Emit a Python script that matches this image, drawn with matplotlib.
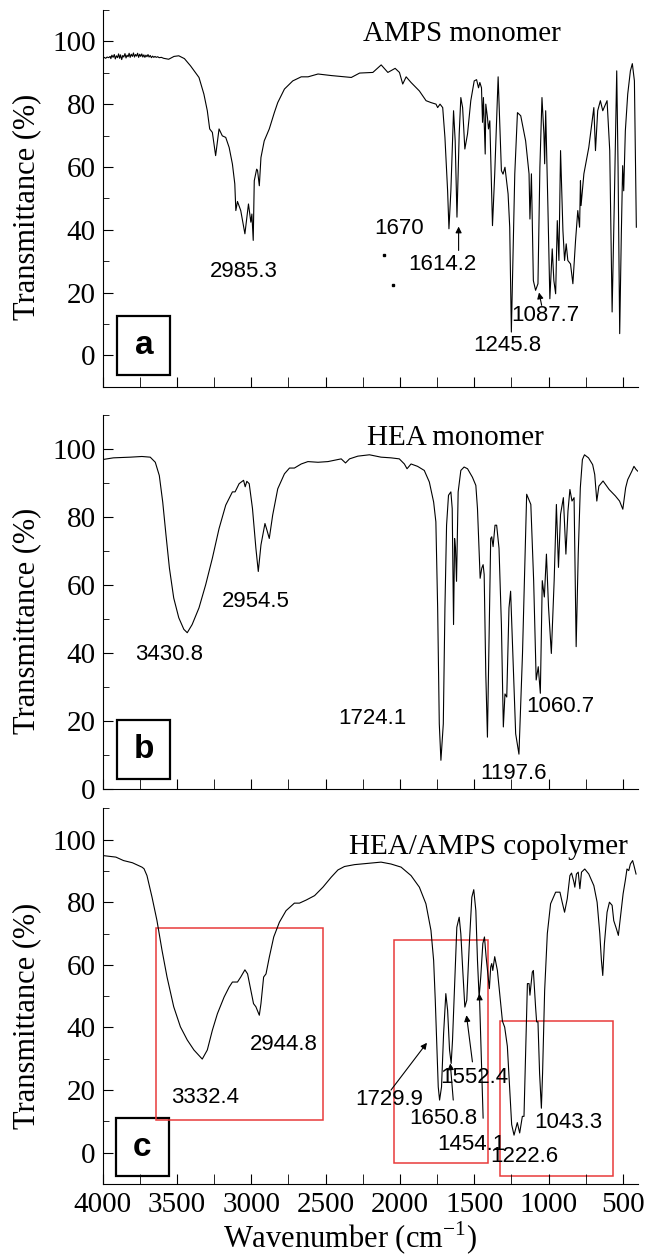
import matplotlib
matplotlib.use('Agg')
import matplotlib.pyplot as plt
from matplotlib.patches import Rectangle
from matplotlib.ticker import MultipleLocator

# FTIR spectra: (wavenumber cm-1, transmittance %)
spec_a = [(4000, 94.7), (3990, 94.9), (3980, 94.6), (3970, 95.0), (3960, 94.8), (3950, 95.2), (3945, 94.5),
          (3938, 95.6), (3930, 94.9), (3922, 95.8), (3915, 94.4), (3908, 95.4), (3900, 94.8), (3893, 96.0),
          (3886, 94.6), (3880, 95.7), (3872, 94.2), (3865, 95.5), (3858, 95.0), (3850, 96.1), (3843, 94.7),
          (3836, 95.6), (3829, 95.1), (3822, 96.2), (3815, 94.9), (3808, 95.9), (3800, 95.2), (3793, 96.3),
          (3786, 95.0), (3779, 95.8), (3772, 95.3), (3765, 96.2), (3758, 94.9), (3751, 95.9), (3744, 95.2),
          (3737, 96.0), (3730, 95.0), (3723, 95.7), (3716, 94.9), (3709, 95.6), (3702, 95.1), (3695, 95.8),
          (3688, 95.0), (3680, 95.5), (3672, 94.8), (3664, 95.3), (3656, 94.9), (3648, 95.2), (3640, 94.9),
          (3630, 95.1), (3620, 94.8), (3605, 94.9), (3590, 94.6), (3578, 94.5), (3556, 94.3), (3520, 95.2),
          (3488, 95.4), (3450, 94.5), (3409, 92.2), (3352, 88.5), (3319, 83.2), (3296, 77.9), (3280, 72.1),
          (3262, 71.0), (3240, 63.6), (3217, 72.1), (3195, 69.9), (3172, 69.4), (3149, 66.2), (3127, 60.9),
          (3111, 54.6), (3104, 46.1), (3093, 49.0), (3071, 46.1), (3043, 38.7), (3019, 48.2), (3003, 42.4),
          (2996, 45.0), (2987, 36.6), (2980, 55.6), (2964, 59.3), (2958, 58.9), (2946, 54.0), (2935, 63.0),
          (2913, 68.3), (2879, 72.1), (2845, 77.3), (2822, 80.5), (2777, 84.8), (2721, 87.4), (2664, 88.7),
          (2618, 88.7), (2551, 89.6), (2461, 89.1), (2372, 88.7), (2327, 88.5), (2271, 89.9), (2182, 90.1),
          (2126, 92.5), (2081, 90.1), (2032, 91.4), (2003, 90.1), (1981, 86.4), (1958, 88.7), (1925, 86.9),
          (1869, 84.2), (1824, 81.1), (1791, 80.5), (1757, 80.0), (1746, 78.9), (1730, 80.0), (1712, 78.9),
          (1697, 69.4), (1679, 52.4), (1670, 40.3), (1657, 52.4), (1639, 77.9), (1628, 68.3), (1616, 44.0),
          (1601, 70.5), (1590, 82.1), (1578, 78.9), (1563, 65.7), (1545, 70.5), (1523, 81.1), (1500, 87.4),
          (1484, 87.8), (1471, 85.2), (1462, 86.9), (1451, 85.2), (1444, 74.2), (1438, 82.1), (1426, 64.1),
          (1422, 80.0), (1411, 75.8), (1404, 72.1), (1395, 74.7), (1377, 41.3), (1362, 57.7), (1339, 88.7),
          (1317, 58.8), (1306, 57.7), (1293, 59.9), (1272, 51.4), (1261, 40.8), (1250, 7.4), (1227, 57.8),
          (1209, 77.3), (1187, 76.3), (1154, 68.3), (1131, 57.8), (1125, 43.4), (1115, 57.8), (1102, 23.8),
          (1087, 20.7), (1071, 22.8), (1058, 59.9), (1044, 82.1), (1031, 70.5), (1026, 61.0), (1019, 77.9),
          (1004, 47.1), (991, 18.0), (975, 33.9), (964, 23.8), (952, 19.6), (941, 42.9), (930, 30.2),
          (919, 65.2), (903, 39.7), (892, 30.2), (881, 35.5), (870, 30.2), (852, 29.1), (836, 22.8),
          (818, 36.6), (803, 46.1), (791, 40.8), (785, 55.6), (781, 47.7), (762, 57.8), (729, 66.2),
          (695, 78.9), (684, 65.2), (669, 77.9), (651, 81.1), (635, 77.9), (606, 81.1), (588, 65.2),
          (572, 13.8), (557, 49.3), (541, 90.6), (532, 59.9), (521, 6.9), (510, 38.7), (501, 60.4),
          (494, 52.4), (483, 71.5), (467, 83.2), (449, 90.6), (436, 92.9), (422, 87.4), (409, 40.8)]

spec_b = [(4000, 96.9), (3928, 97.4), (3870, 97.5), (3815, 97.6), (3736, 97.8), (3680, 97.6), (3646, 96.1),
          (3619, 92.2), (3596, 84.4), (3574, 74.7), (3551, 65.0), (3522, 56.2), (3488, 50.4), (3454, 47.0),
          (3431, 46.0), (3398, 48.4), (3352, 53.3), (3307, 60.1), (3262, 67.9), (3217, 76.6), (3172, 83.5),
          (3127, 87.4), (3109, 87.4), (3082, 89.8), (3052, 90.8), (3041, 88.9), (3030, 90.5), (3014, 89.8),
          (2992, 82.5), (2969, 70.8), (2953, 64.0), (2935, 71.8), (2908, 78.1), (2895, 76.2), (2879, 73.7),
          (2856, 80.6), (2822, 88.3), (2777, 92.7), (2743, 94.4), (2710, 94.4), (2664, 95.6), (2619, 96.3),
          (2551, 96.1), (2484, 96.3), (2395, 97.1), (2366, 95.9), (2339, 97.1), (2283, 97.9), (2205, 98.3),
          (2127, 97.6), (2060, 97.4), (2004, 97.1), (1970, 95.6), (1952, 94.2), (1925, 95.6), (1881, 94.9),
          (1836, 93.7), (1802, 90.3), (1773, 84.4), (1758, 78.6), (1746, 53.3), (1735, 19.2), (1724, 8.5),
          (1708, 19.2), (1697, 53.3), (1686, 77.6), (1673, 86.4), (1657, 87.4), (1648, 82.5), (1639, 48.4),
          (1632, 73.7), (1626, 70.8), (1619, 61.1), (1608, 87.4), (1590, 93.7), (1568, 94.7), (1545, 94.2),
          (1512, 91.7), (1489, 89.3), (1478, 82.5), (1467, 69.8), (1460, 62.0), (1449, 65.0), (1440, 66.0),
          (1433, 63.1), (1422, 33.8), (1411, 15.3), (1400, 43.6), (1389, 73.7), (1382, 74.2), (1373, 71.3),
          (1360, 77.6), (1349, 77.6), (1333, 70.8), (1317, 48.4), (1304, 18.3), (1293, 28.0), (1281, 27.1),
          (1266, 53.3), (1255, 58.2), (1239, 38.7), (1221, 16.3), (1199, 10.3), (1175, 39.9), (1147, 86.7),
          (1119, 83.7), (1100, 61.3), (1083, 32.1), (1069, 36.0), (1055, 28.2), (1042, 61.3), (1028, 56.5),
          (1014, 69.1), (1000, 53.6), (981, 39.9), (962, 61.3), (947, 83.7), (933, 65.2), (919, 80.8),
          (900, 85.7), (883, 69.1), (869, 81.8), (856, 88.1), (842, 84.7), (828, 85.7), (814, 41.9),
          (800, 69.1), (786, 88.6), (772, 96.9), (758, 98.3), (731, 97.4), (703, 95.4), (689, 92.5),
          (675, 84.7), (661, 89.1), (633, 90.6), (592, 88.1), (550, 86.2), (522, 84.7), (500, 82.3),
          (481, 88.6), (467, 91.0), (439, 93.5), (425, 94.9), (411, 94.0), (400, 93.5)]

spec_c = [(4000, 94.9), (3911, 94.4), (3860, 93.3), (3800, 92.6), (3736, 91.2), (3722, 90.7), (3702, 88.5),
          (3668, 81.6), (3635, 74.2), (3601, 64.7), (3567, 56.1), (3522, 46.6), (3477, 40.2), (3431, 36.0),
          (3386, 32.8), (3330, 29.9), (3296, 32.8), (3262, 39.1), (3228, 44.4), (3183, 49.7), (3149, 52.9),
          (3127, 54.5), (3093, 54.5), (3071, 56.1), (3043, 58.4), (3025, 57.1), (3003, 51.8), (2985, 47.6),
          (2969, 46.6), (2946, 43.9), (2935, 47.6), (2917, 56.1), (2901, 57.1), (2879, 62.4), (2849, 68.9),
          (2811, 73.6), (2766, 77.3), (2710, 79.7), (2676, 79.7), (2630, 80.7), (2574, 82.1), (2518, 84.8),
          (2462, 88.0), (2417, 90.3), (2373, 91.4), (2305, 92.0), (2216, 92.4), (2127, 92.8), (2060, 92.2),
          (1992, 91.2), (1925, 88.5), (1869, 84.8), (1825, 79.5), (1791, 71.0), (1773, 61.4), (1762, 48.7),
          (1751, 33.8), (1742, 21.0), (1733, 16.8), (1720, 21.0), (1706, 38.0), (1691, 50.8), (1679, 45.5),
          (1666, 32.8), (1655, 28.5), (1646, 35.9), (1630, 56.1), (1617, 72.0), (1601, 75.2), (1590, 69.9),
          (1577, 58.2), (1563, 46.5), (1550, 48.7), (1534, 65.7), (1516, 81.6), (1503, 84.0), (1489, 77.3),
          (1478, 61.4), (1467, 49.7), (1456, 56.1), (1442, 66.8), (1431, 68.9), (1420, 62.6), (1404, 55.1),
          (1398, 52.4), (1389, 59.3), (1382, 60.4), (1375, 58.2), (1362, 62.6), (1344, 58.2), (1326, 49.7),
          (1310, 42.0), (1295, 40.1), (1277, 34.0), (1261, 20.0), (1248, 9.0), (1232, 5.6), (1210, 9.6),
          (1194, 6.3), (1176, 11.6), (1165, 11.6), (1152, 35.9), (1142, 54.0), (1131, 54.0), (1125, 50.3),
          (1109, 57.7), (1102, 58.2), (1087, 46.5), (1080, 41.8), (1071, 41.8), (1060, 25.3), (1048, 14.2),
          (1040, 25.3), (1026, 51.8), (1008, 70.0), (986, 79.5), (952, 83.2), (923, 83.2), (908, 80.0),
          (892, 76.8), (874, 81.1), (856, 88.5), (845, 89.3), (829, 86.4), (823, 84.8), (812, 89.0),
          (800, 89.6), (789, 84.3), (778, 89.6), (756, 90.6), (729, 89.0), (695, 85.3), (673, 80.0),
          (655, 70.0), (644, 61.4), (635, 56.6), (624, 66.7), (606, 76.8), (590, 80.0), (572, 79.0),
          (561, 74.1), (543, 71.5), (530, 69.4), (516, 75.2), (498, 82.7), (483, 87.0), (472, 90.6),
          (460, 90.1), (449, 92.2), (434, 93.3), (425, 91.7), (411, 89.0)]

titles = ['AMPS monomer', 'HEA monomer', 'HEA/AMPS copolymer']
panel_letters = ['a', 'b', 'c']

# peak labels for each panel
labels_a = ['2985.3', '1670', '1614.2', '1087.7', '1245.8']
labels_b = ['3430.8', '2954.5', '1724.1', '1197.6', '1060.7']
labels_c = ['3332.4', '2944.8', '1729.9', '1650.8', '1552.4', '1454.1', '1222.6', '1043.3']

xticks = [4000, 3500, 3000, 2500, 2000, 1500, 1000, 500]

# --- layout (positions only) ---
label_pos_a = [(3050, 26.8), (2003, 40.5), (1717, 28.8), (1020, 12.7), (1280, 3.1)]
label_pos_b = [(3551, 39.7), (2967, 55.2), (2185, 20.7), (1233, 4.7), (919, 24.3)]
label_pos_c = [(3314, 17.5), (2780, 34.5), (2069, 17.0), (1708, 10.8), (1497, 23.9), (1517, 2.7),
               (1166, -1.1), (866, 9.8)]
dots_a = [(2105, 32.1), (2044, 22.3)]
arrows_a = [((1605, 33.4), (1605, 41.0)), ((1046, 15.9), (1064, 20.0))]
arrows_c = [((2060, 20.0), (1818, 35.1)), ((1641, 16.8), (1661, 28.5)),
            ((1512, 29.0), (1552, 43.9)), ((1440, 11.0), (1465, 50.8))]
red_boxes_c = [(3641, 10.4, 2518, 71.8), (2037, -3.4, 1407, 68.0), (1326, -7.4, 568, 42.0)]

plt.rcParams['font.family'] = ['Liberation Serif', 'DejaVu Serif']
plt.rcParams['mathtext.fontset'] = 'custom'
plt.rcParams['mathtext.rm'] = 'Liberation Serif'

fig = plt.figure(figsize=(6.45, 12.6), dpi=100)

rects = [[0.1592, 0.6931, 0.8306, 0.2990],
         [0.1592, 0.37365, 0.8306, 0.2970],
         [0.1592, 0.06032, 0.8306, 0.2982]]
ylims = [(-10, 110), (0, 110), (-10, 110)]
title_pos = [(1580, 102.3), (1625, 103.2), (1406, 97.5)]
letter_box = [(3901, -6.4, 3544, 12.4), (3901, 2.9, 3544, 20.2), (3910, -7.6, 3556, 11.0)]
ylab_y = [0.478, 0.449, 0.447]

specs = [spec_a, spec_b, spec_c]
all_labels = [(labels_a, label_pos_a), (labels_b, label_pos_b), (labels_c, label_pos_c)]
sans = ['Liberation Sans', 'DejaVu Sans']

axes = []
for i in range(3):
    ax = fig.add_axes(rects[i])
    axes.append(ax)
    wn = [p[0] for p in specs[i]]
    tr = [p[1] for p in specs[i]]
    ax.plot(wn, tr, color='k', lw=0.8)
    ax.set_xlim(4000, 395)
    ax.set_ylim(*ylims[i])
    for s in ['top', 'right']:
        ax.spines[s].set_visible(False)
    ax.set_xticks(xticks)
    ax.xaxis.set_minor_locator(MultipleLocator(250))
    ax.set_yticks([0, 20, 40, 60, 80, 100])
    ax.yaxis.set_minor_locator(MultipleLocator(10))
    ax.tick_params(axis='x', which='both', direction='in', length=7, labelsize=21, pad=6)
    ax.tick_params(axis='y', which='major', direction='in', length=7, labelsize=21, pad=5)
    ax.tick_params(axis='y', which='minor', direction='in', length=4)
    if i < 2:
        ax.tick_params(axis='x', labelbottom=False)
    ax.set_ylabel('Transmittance (%)', fontsize=22)
    ax.yaxis.set_label_coords(-0.115, ylab_y[i])

    ax.text(title_pos[i][0], title_pos[i][1], titles[i], fontsize=21, ha='center', va='center')

    # letter box
    x0, y0, x1, y1 = letter_box[i]
    ax.add_patch(Rectangle((x0, y0), x1 - x0, y1 - y0, fill=False, lw=1.6, ec='k', clip_on=False))
    ax.text((x0 + x1) / 2, (y0 + y1) / 2, panel_letters[i], fontsize=24, fontweight='bold',
            family=sans, ha='center', va='center')

    labs, pos = all_labels[i]
    for t, (x, y) in zip(labs, pos):
        ax.text(x, y, t, fontsize=16, family=sans, ha='center', va='center')

# small marks and arrows
for x, y in dots_a:
    axes[0].plot([x], [y], 's', color='k', ms=2)
for tail, head in arrows_a:
    axes[0].annotate('', xy=head, xytext=tail,
                     arrowprops=dict(arrowstyle='-|>', color='k', lw=0.8, mutation_scale=9,
                                     shrinkA=0, shrinkB=0))
for tail, head in arrows_c:
    axes[2].annotate('', xy=head, xytext=tail,
                     arrowprops=dict(arrowstyle='-|>', color='k', lw=0.8, mutation_scale=9,
                                     shrinkA=0, shrinkB=0))
for x0, y0, x1, y1 in red_boxes_c:
    axes[2].add_patch(Rectangle((x0, y0), x1 - x0, y1 - y0, fill=False, lw=1.1, ec='#e83a3a', clip_on=False))

fig.text(0.542, 1 - 1238 / 1260, 'Wavenumber (cm$^{\\mathregular{-1}}$)', fontsize=22,
         ha='center', va='center')

fig.savefig('out.png', dpi=100)
